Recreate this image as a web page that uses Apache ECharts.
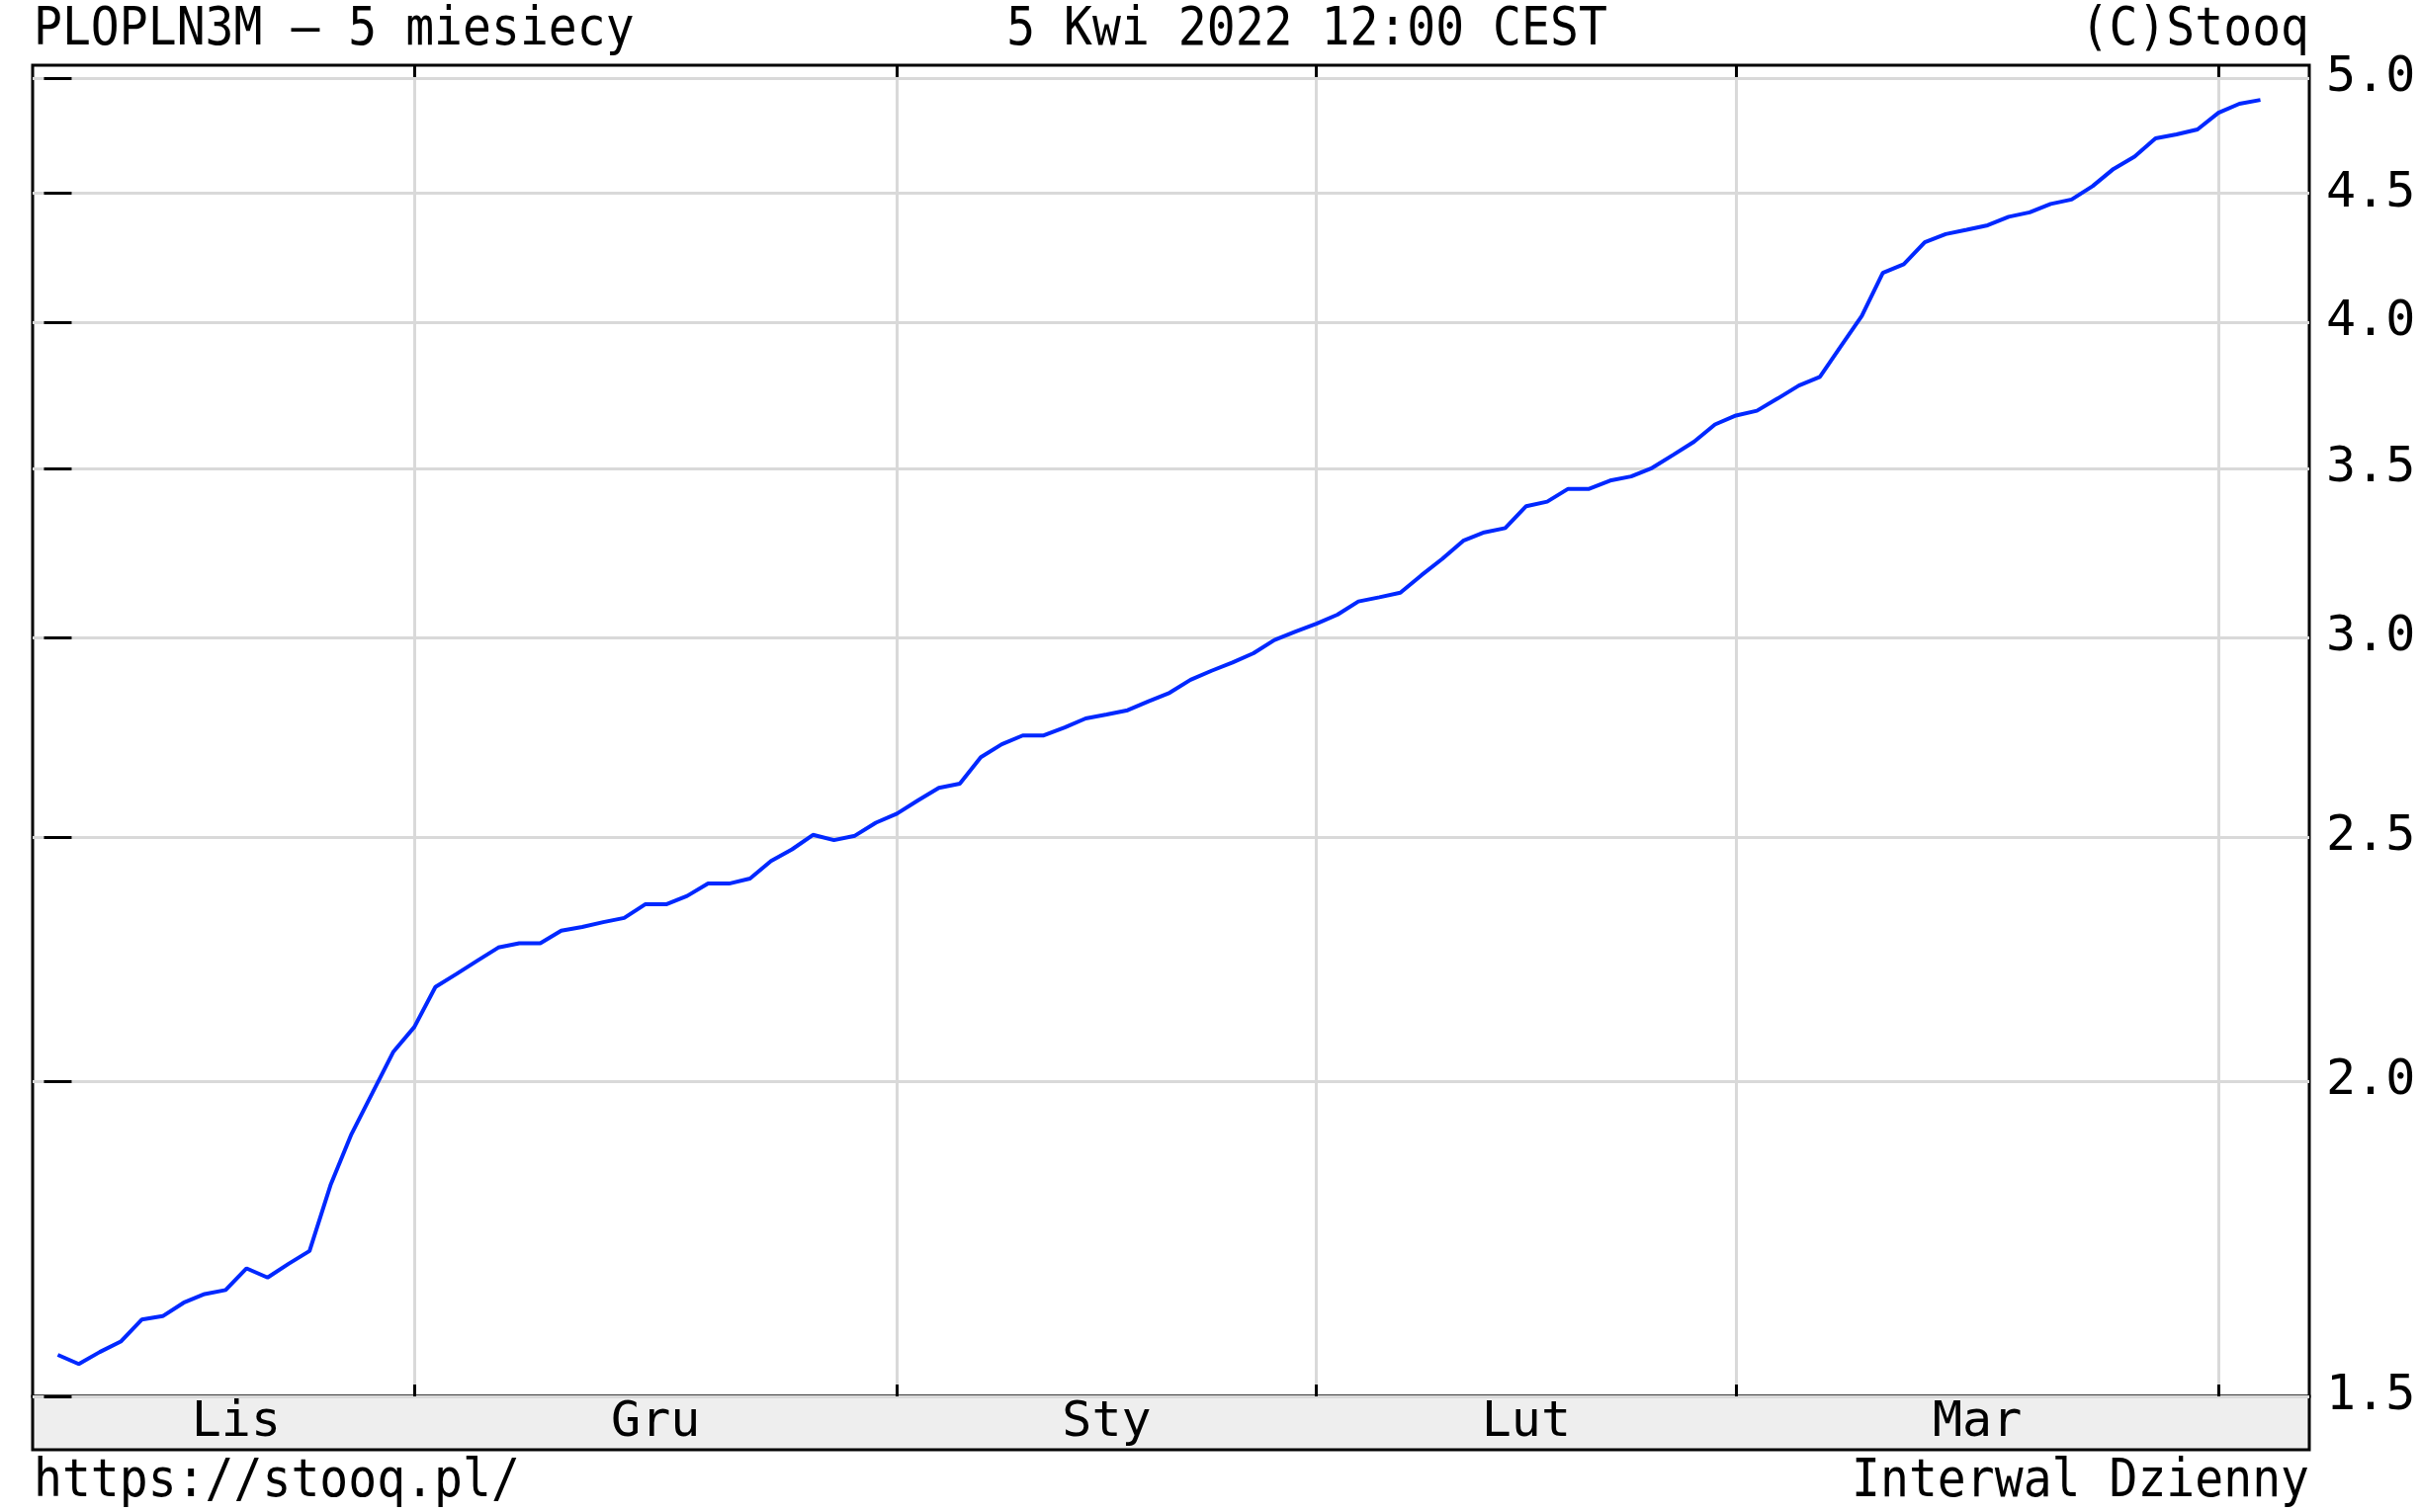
<!DOCTYPE html>
<html><head><meta charset="utf-8">
<script src="https://cdn.jsdelivr.net/npm/echarts@6/dist/echarts.min.js"></script>
<style>html,body{margin:0;padding:0;background:#fff}#c{width:2448px;height:1530px}</style>
</head><body><div id="c"></div>
<script>
const dates = [
'2021-11-05','2021-11-08','2021-11-09','2021-11-10','2021-11-12','2021-11-15','2021-11-16','2021-11-17','2021-11-18','2021-11-19',
'2021-11-22','2021-11-23','2021-11-24','2021-11-25','2021-11-26','2021-11-29','2021-11-30',
'2021-12-01','2021-12-02','2021-12-03','2021-12-06','2021-12-07','2021-12-08','2021-12-09','2021-12-10','2021-12-13','2021-12-14',
'2021-12-15','2021-12-16','2021-12-17','2021-12-20','2021-12-21','2021-12-22','2021-12-23','2021-12-24','2021-12-27','2021-12-28',
'2021-12-29','2021-12-30','2021-12-31',
'2022-01-03','2022-01-04','2022-01-05','2022-01-07','2022-01-10','2022-01-11','2022-01-12','2022-01-13','2022-01-14','2022-01-17',
'2022-01-18','2022-01-19','2022-01-20','2022-01-21','2022-01-24','2022-01-25','2022-01-26','2022-01-27','2022-01-28','2022-01-31',
'2022-02-01','2022-02-02','2022-02-03','2022-02-04','2022-02-07','2022-02-08','2022-02-09','2022-02-10','2022-02-11','2022-02-14',
'2022-02-15','2022-02-16','2022-02-17','2022-02-18','2022-02-21','2022-02-22','2022-02-23','2022-02-24','2022-02-25','2022-02-28',
'2022-03-01','2022-03-02','2022-03-03','2022-03-04','2022-03-07','2022-03-08','2022-03-09','2022-03-10','2022-03-11','2022-03-14',
'2022-03-15','2022-03-16','2022-03-17','2022-03-18','2022-03-21','2022-03-22','2022-03-23','2022-03-24','2022-03-25','2022-03-28',
'2022-03-29','2022-03-30','2022-03-31',
'2022-04-01','2022-04-04','2022-04-05'
];
const values = [
1.558,1.545,1.562,1.577,1.609,1.614,1.634,1.647,1.653,1.686,
1.672,1.693,1.713,1.819,1.906,1.979,2.055,
2.102,2.180,2.206,2.233,2.260,2.269,2.269,2.295,2.303,2.313,
2.322,2.351,2.351,2.369,2.396,2.396,2.407,2.446,2.472,2.505,
2.493,2.503,2.533,
2.554,2.585,2.615,2.625,2.689,2.721,2.743,2.743,2.763,2.786,
2.796,2.807,2.830,2.852,2.886,2.910,2.932,2.957,2.993,3.016,
3.038,3.063,3.100,3.112,3.125,3.175,3.223,3.277,3.302,3.315,
3.382,3.396,3.436,3.436,3.462,3.475,3.502,3.544,3.587,3.644,
3.674,3.690,3.732,3.776,3.806,3.914,4.024,4.185,4.218,4.304,
4.336,4.353,4.371,4.405,4.423,4.457,4.475,4.530,4.602,4.654,
4.732,4.749,4.771,
4.844,4.884,4.901
];
const yTicks = [1.5, 2.0, 2.5, 3.0, 3.5, 4.0, 4.5, 5.0];
const monthNames = {'11':'Lis','12':'Gru','01':'Sty','02':'Lut','03':'Mar','04':'Kwi'};
const titleLeft = 'PLOPLN3M – 5 miesiecy';
const titleCenter = '5 Kwi 2022 12:00 CEST';
const titleRight = '(C)Stooq';
const footLeft = 'https://stooq.pl/';
const footRight = 'Interwal Dzienny';

// month boundaries (first trading day of each new month) and label positions
const boundaries = [];
const segments = [];
let segStart = 0;
for (let i = 1; i < dates.length; i++) {
  if (dates[i].slice(5, 7) !== dates[i - 1].slice(5, 7)) {
    boundaries.push(i);
    segments.push({ from: segStart, to: i, name: monthNames[dates[segStart].slice(5, 7)] });
    segStart = i;
  }
}
const labelPos = segments.map(s => (s.from + s.to) / 2);
const labelName = {};
segments.forEach(s => { labelName[String((s.from + s.to) / 2)] = s.name; });

const seriesData = values.map((v, i) => [i, v]);

const FONT = '"DejaVu Sans Mono", monospace';
const L = 33, T = 66, R = 2336, B = 1413, BAND_B = 1467;
const xMin = -1.2, xMax = 107.33;
const yMin = 1.5, yMax = 5.059;
const GRID = '#d9d9d9';
const TXT_FONT = '54px ' + FONT;
const SX = 0.89;

function txt(text, x, y, align) {
  return { type: 'text', z: 20, x: x, y: y, scaleX: SX, scaleY: 1,
    style: { text: text, font: TXT_FONT, fill: '#000', align: align, verticalAlign: 'middle' } };
}

const chart = echarts.init(document.getElementById('c'), null, { renderer: 'canvas' });
chart.setOption({
  backgroundColor: '#fff',
  animation: false,
  grid: { left: L, top: T, width: R - L, height: B - T, show: true, borderColor: '#000', borderWidth: 3, backgroundColor: 'transparent', z: 3 },
  xAxis: [
    {
      type: 'value', min: xMin, max: xMax, position: 'bottom', z: 10,
      axisLine: { show: false },
      axisTick: { show: true, inside: true, length: 12, customValues: boundaries, lineStyle: { color: '#000', width: 3 } },
      splitLine: { show: true, lineStyle: { color: GRID, width: 3 } },
      axisLabel: {
        show: true, customValues: labelPos, margin: 27, verticalAlign: 'middle',
        color: '#000', fontFamily: FONT, fontSize: 50,
        formatter: v => labelName[String(v)] || ''
      }
    },
    {
      type: 'value', min: xMin, max: xMax, position: 'top', z: 10,
      axisLine: { show: false },
      axisTick: { show: true, inside: true, length: 12, customValues: boundaries, lineStyle: { color: '#000', width: 3 } },
      splitLine: { show: false },
      axisLabel: { show: false }
    }
  ],
  yAxis: [
    {
      type: 'log', logBase: 10, min: yMin, max: yMax, position: 'right', z: 10,
      axisLine: { show: false },
      axisTick: { show: true, inside: true, length: 14, customValues: yTicks, lineStyle: { color: '#000', width: 3 } },
      splitLine: { show: true, lineStyle: { color: GRID, width: 3 } },
      axisLabel: {
        show: true, customValues: yTicks, margin: 17, color: '#000', fontFamily: FONT, fontSize: 50,
        formatter: v => Number(v).toFixed(1)
      }
    },
    {
      type: 'log', logBase: 10, min: yMin, max: yMax, position: 'left', z: 10,
      axisLine: { show: false },
      axisTick: { show: true, inside: true, length: 14, customValues: yTicks, lineStyle: { color: '#000', width: 3 } },
      splitLine: { show: false },
      axisLabel: { show: false }
    }
  ],
  graphic: [
    { type: 'rect', z: 1, shape: { x: L, y: B, width: R - L, height: BAND_B - B }, style: { fill: '#eeeeee', stroke: '#000', lineWidth: 3 } },
    txt(titleLeft, 34, 31, 'left'),
    txt(titleCenter, 1322, 31, 'center'),
    txt(titleRight, R, 31, 'right'),
    txt(footLeft, 34, 1500, 'left'),
    txt(footRight, R, 1500, 'right')
  ],
  series: [{
    type: 'line', xAxisIndex: 0, yAxisIndex: 0, data: seriesData, showSymbol: false, z: 20,
    lineStyle: { color: '#0028ff', width: 4 }, itemStyle: { color: '#0028ff' }
  }]
});
</script>
</body></html>
